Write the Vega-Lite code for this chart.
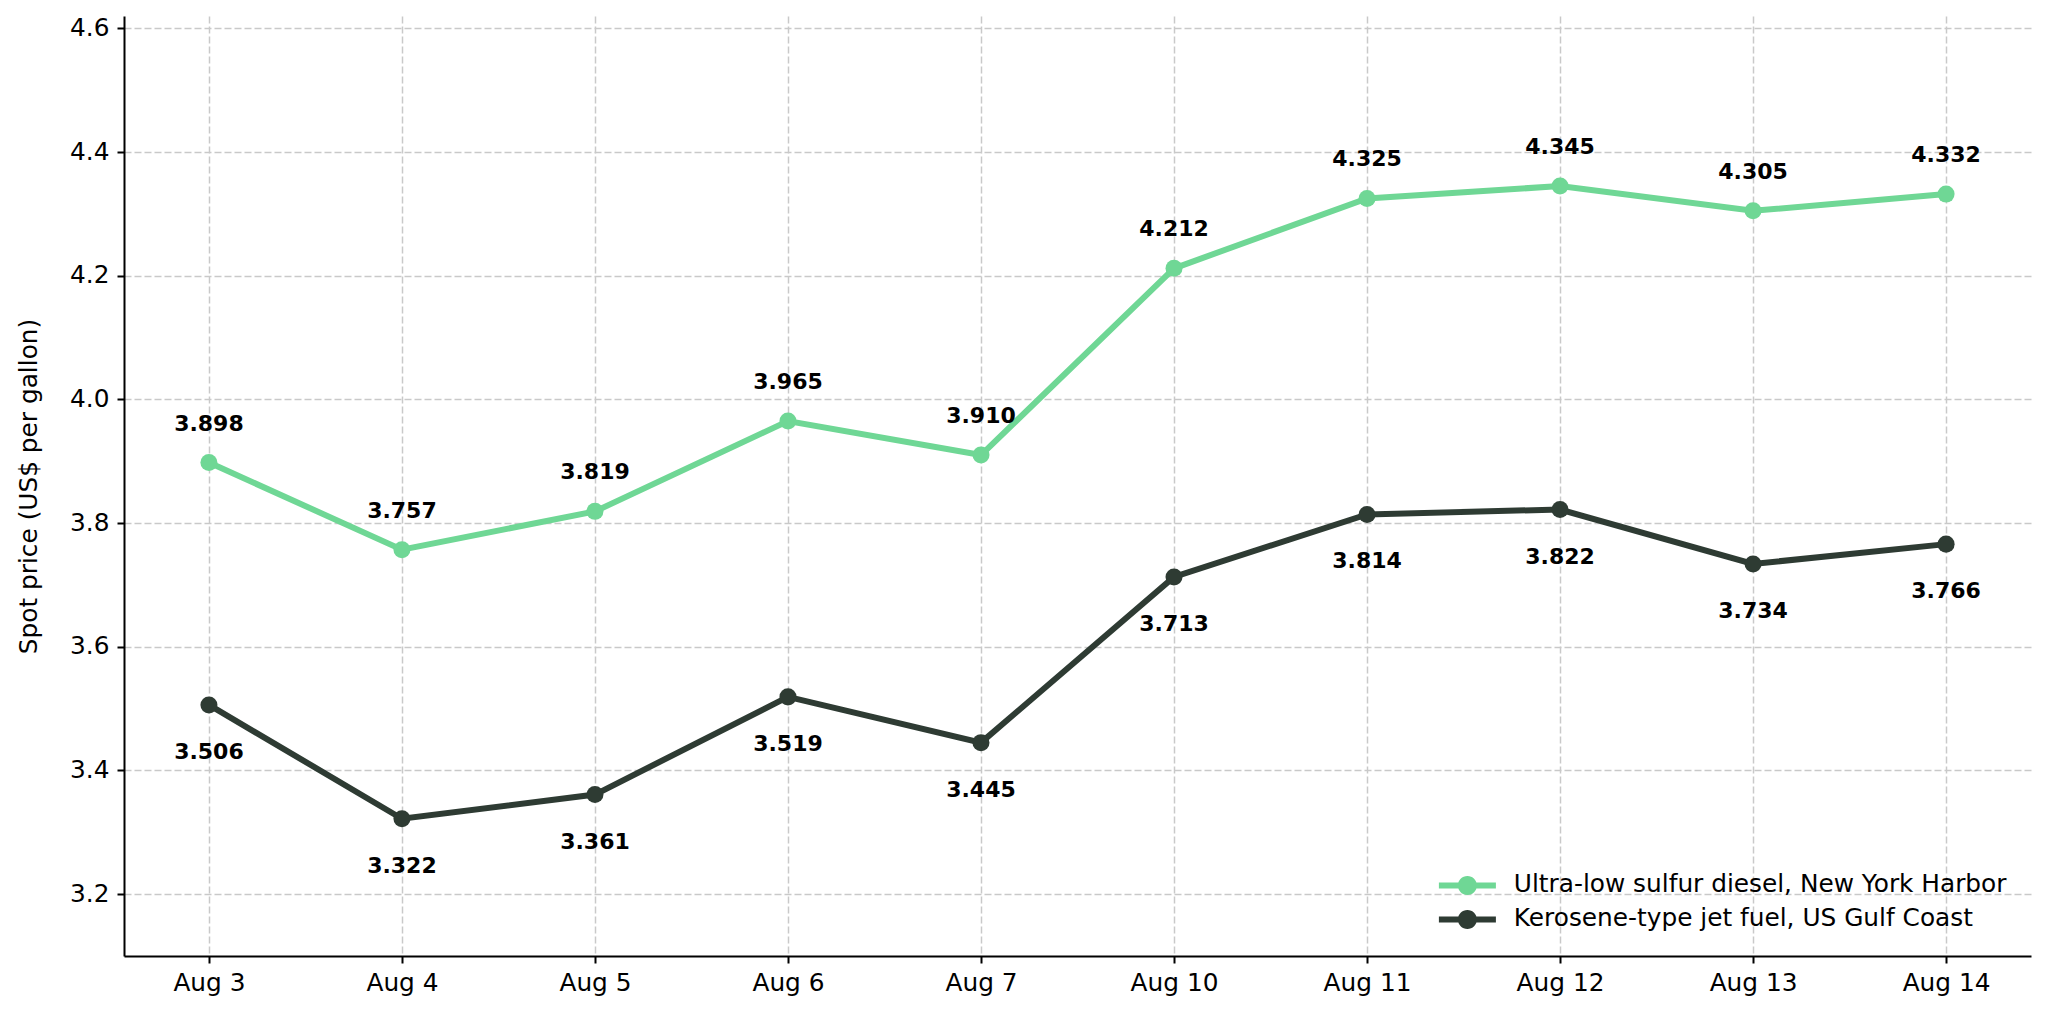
{
  "$schema": "https://vega.github.io/schema/vega-lite/v6.json",
  "width": 1907,
  "height": 940,
  "autosize": {"type": "none"},
  "padding": {"left": 124, "top": 16, "right": 17, "bottom": 59},
  "background": "white",
  "data": {
    "values": [
      {"day": "Aug 3", "series": "Ultra-low sulfur diesel, New York Harbor", "price": 3.898},
      {"day": "Aug 4", "series": "Ultra-low sulfur diesel, New York Harbor", "price": 3.757},
      {"day": "Aug 5", "series": "Ultra-low sulfur diesel, New York Harbor", "price": 3.819},
      {"day": "Aug 6", "series": "Ultra-low sulfur diesel, New York Harbor", "price": 3.965},
      {"day": "Aug 7", "series": "Ultra-low sulfur diesel, New York Harbor", "price": 3.910},
      {"day": "Aug 10", "series": "Ultra-low sulfur diesel, New York Harbor", "price": 4.212},
      {"day": "Aug 11", "series": "Ultra-low sulfur diesel, New York Harbor", "price": 4.325},
      {"day": "Aug 12", "series": "Ultra-low sulfur diesel, New York Harbor", "price": 4.345},
      {"day": "Aug 13", "series": "Ultra-low sulfur diesel, New York Harbor", "price": 4.305},
      {"day": "Aug 14", "series": "Ultra-low sulfur diesel, New York Harbor", "price": 4.332},
      {"day": "Aug 3", "series": "Kerosene-type jet fuel, US Gulf Coast", "price": 3.506},
      {"day": "Aug 4", "series": "Kerosene-type jet fuel, US Gulf Coast", "price": 3.322},
      {"day": "Aug 5", "series": "Kerosene-type jet fuel, US Gulf Coast", "price": 3.361},
      {"day": "Aug 6", "series": "Kerosene-type jet fuel, US Gulf Coast", "price": 3.519},
      {"day": "Aug 7", "series": "Kerosene-type jet fuel, US Gulf Coast", "price": 3.445},
      {"day": "Aug 10", "series": "Kerosene-type jet fuel, US Gulf Coast", "price": 3.713},
      {"day": "Aug 11", "series": "Kerosene-type jet fuel, US Gulf Coast", "price": 3.814},
      {"day": "Aug 12", "series": "Kerosene-type jet fuel, US Gulf Coast", "price": 3.822},
      {"day": "Aug 13", "series": "Kerosene-type jet fuel, US Gulf Coast", "price": 3.734},
      {"day": "Aug 14", "series": "Kerosene-type jet fuel, US Gulf Coast", "price": 3.766}
    ]
  },
  "encoding": {
    "x": {
      "field": "day",
      "type": "ordinal",
      "sort": null,
      "scale": {"type": "point", "padding": 0.44},
      "axis": {
        "title": null,
        "labelAngle": 0,
        "grid": true,
        "labelPadding": 7
      }
    },
    "y": {
      "field": "price",
      "type": "quantitative",
      "scale": {"domain": [3.1, 4.62], "nice": false, "zero": false},
      "axis": {
        "title": "Spot price (US$ per gallon)",
        "values": [3.2, 3.4, 3.6, 3.8, 4.0, 4.2, 4.4, 4.6],
        "format": ".1f",
        "labelPadding": 8,
        "titleX": -95,
        "titleY": 470,
        "titleAngle": -90,
        "titleAlign": "center",
        "titleBaseline": "middle"
      }
    }
  },
  "layer": [
    {
      "mark": {"type": "line", "strokeWidth": 6},
      "encoding": {
        "color": {
          "field": "series",
          "type": "nominal",
          "scale": {
            "domain": ["Ultra-low sulfur diesel, New York Harbor", "Kerosene-type jet fuel, US Gulf Coast"],
            "range": ["#6fd795", "#2e3b33"]
          },
          "legend": {
            "title": null,
            "orient": "bottom-right",
            "offset": 24,
            "padding": 0,
            "symbolType": "M-2.85,-0.3L2.85,-0.3L2.85,0.3L-2.85,0.3Z M-0.95,0A0.95,0.95 0 1,1 0.95,0A0.95,0.95 0 1,1 -0.95,0Z",
            "symbolSize": 400,
            "symbolStrokeWidth": 0,
            "labelOffset": 34,
            "rowPadding": 8,
            "encode": {
              "symbols": {
                "update": {
                  "fill": {"scale": "color", "field": "value"},
                  "strokeWidth": {"value": 0}
                }
              }
            }
          }
        }
      }
    },
    {
      "mark": {"type": "point", "filled": true, "size": 290, "opacity": 1},
      "encoding": {
        "color": {"field": "series", "type": "nominal", "legend": null}
      }
    },
    {
      "transform": [{"filter": "datum.series === 'Ultra-low sulfur diesel, New York Harbor'"}],
      "mark": {"type": "text", "dy": -39, "baseline": "middle", "font": "DejaVu Sans", "fontWeight": "bold", "fontSize": 22, "color": "black"},
      "encoding": {"text": {"field": "price", "type": "quantitative", "format": ".3f"}}
    },
    {
      "transform": [{"filter": "datum.series === 'Kerosene-type jet fuel, US Gulf Coast'"}],
      "mark": {"type": "text", "dy": 47, "baseline": "middle", "font": "DejaVu Sans", "fontWeight": "bold", "fontSize": 22, "color": "black"},
      "encoding": {"text": {"field": "price", "type": "quantitative", "format": ".3f"}}
    }
  ],
  "config": {
    "view": {"stroke": null},
    "font": "DejaVu Sans",
    "axis": {
      "labelFont": "DejaVu Sans",
      "labelFontSize": 24.8,
      "labelColor": "black",
      "titleFont": "DejaVu Sans",
      "titleFontSize": 24.8,
      "titleFontWeight": "normal",
      "titleColor": "black",
      "domainColor": "black",
      "domainWidth": 2,
      "tickColor": "black",
      "tickWidth": 2,
      "tickSize": 7,
      "gridColor": "#c9c9c9",
      "gridWidth": 1.5,
      "gridDash": [7, 3]
    },
    "legend": {
      "labelFont": "DejaVu Sans",
      "labelFontSize": 24.8,
      "labelColor": "black",
      "labelLimit": 1000
    }
  }
}
